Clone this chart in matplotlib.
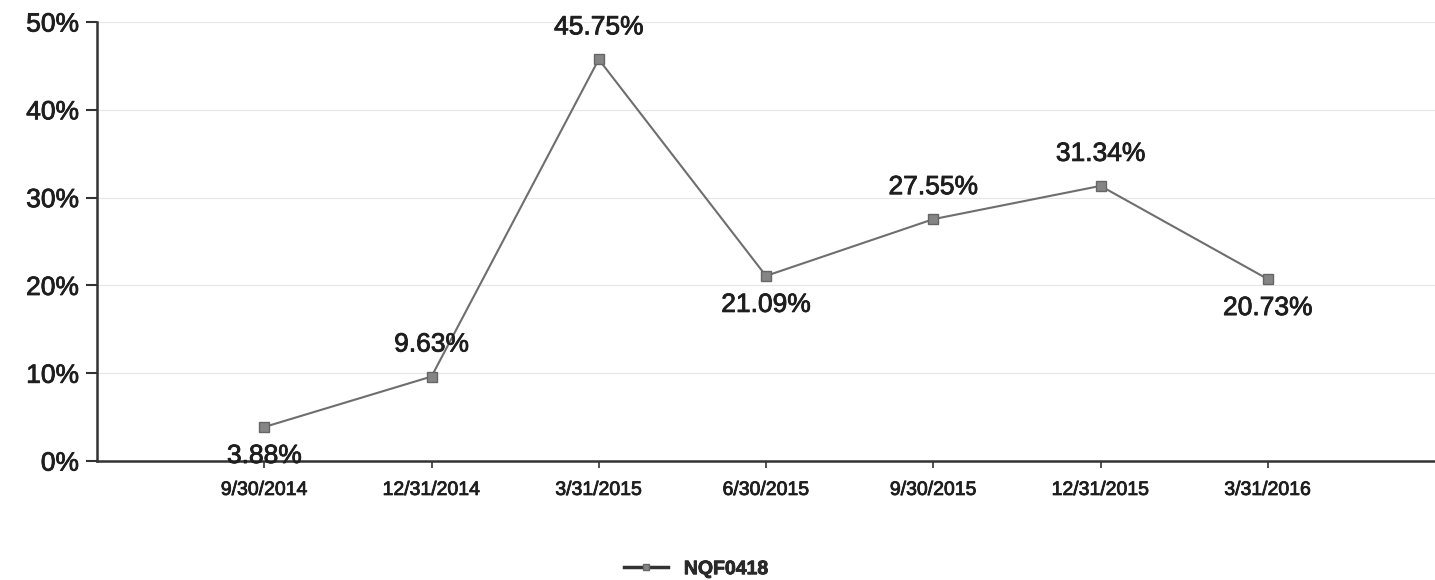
import matplotlib.pyplot as plt
import matplotlib.patheffects as pe
from matplotlib.ticker import FuncFormatter
import numpy as np

plt.rcParams['font.family'] = ['Liberation Sans', 'DejaVu Sans']

quarters = ['9/30/2014', '12/31/2014', '3/31/2015', '6/30/2015',
            '9/30/2015', '12/31/2015', '3/31/2016']
rates = [3.88, 9.63, 45.75, 21.09, 27.55, 31.34, 20.73]
label_side = ['below', 'above', 'above', 'below', 'above', 'above', 'below']

# slightly heavier glyphs for all text
thick = [pe.withStroke(linewidth=0.6, foreground='#1e1e1e')]

fig = plt.figure(figsize=(14.35, 5.8), dpi=100)
ax = fig.add_axes([0.0676, 0.205, 0.9324, 0.757])

x = np.arange(len(quarters))
ax.plot(x, rates, color='#6e6e6e', linewidth=1.5, marker='s', markersize=7,
        markerfacecolor='#858585', markeredgecolor='#666666', label='NQF0418', zorder=3)

# value labels above or below each point
for xi, v, side in zip(x, rates, label_side):
    dy = 32 if side == 'above' else -29
    ax.annotate('%.2f%%' % v, (xi, v), xytext=(0, dy), textcoords='offset pixels',
                ha='center', va='center', fontsize=19, color='#1e1e1e', zorder=4,
                path_effects=thick)

ax.set_xlim(-1, len(quarters))
ax.set_ylim(0, 50)
ax.set_yticks(range(0, 51, 10))
ax.yaxis.set_major_formatter(FuncFormatter(lambda v, p: '%d%%' % v))
ax.set_xticks(x)
ax.set_xticklabels(quarters)

ax.grid(axis='y', color='#e6e6e6', linewidth=0.8)
ax.set_axisbelow(True)
for s in ['top', 'right']:
    ax.spines[s].set_visible(False)
for s in ['left', 'bottom']:
    ax.spines[s].set_linewidth(1.8)
    ax.spines[s].set_color('#333333')

ax.tick_params(axis='y', labelsize=19, length=8, width=1.5, colors='#333333', pad=5)
ax.tick_params(axis='x', labelsize=14, length=5, width=1.2, colors='#333333', pad=10)
for t in ax.get_yticklabels() + ax.get_xticklabels():
    t.set_color('#1e1e1e')
    t.set_path_effects(thick)

leg = fig.legend(loc='lower center', bbox_to_anchor=(0.485, -0.027), frameon=False,
                 fontsize=14, handlelength=2.3, markerscale=0.7)
for t in leg.get_texts():
    t.set_fontweight('bold')
    t.set_color('#2a2a2a')
    t.set_path_effects(thick)
for h in leg.get_lines():
    h.set_color('#333333')
    h.set_linewidth(2.5)

fig.savefig('out.png', dpi=100)
